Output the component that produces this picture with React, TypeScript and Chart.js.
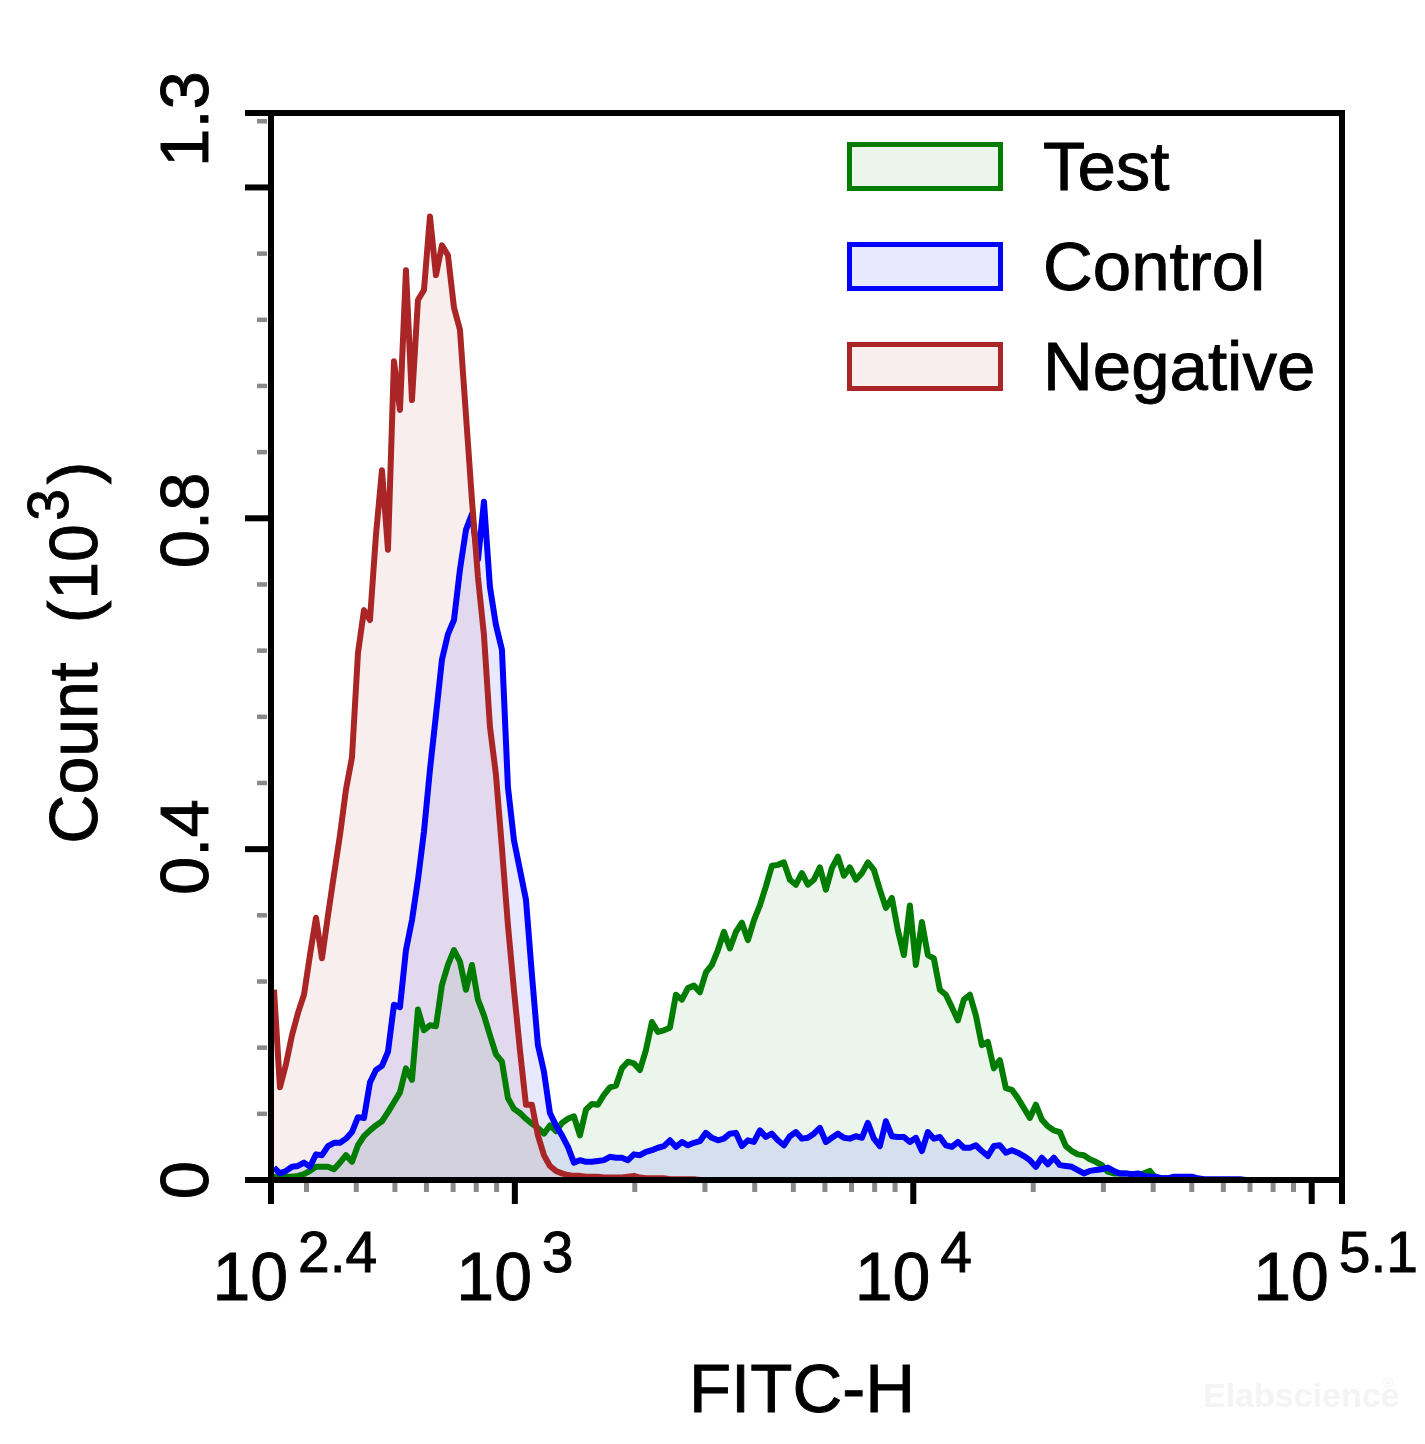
import React, { useEffect, useRef } from "react";
import { Chart, registerables } from "chart.js";

Chart.register(...registerables);

// ---- axis ranges (log10 of FITC-H) ----
const LOG_MIN = 2.388;
const LOG_MAX = 5.076;
// histogram channel centres (log10 FITC-H): first channel and channel width
const BIN_LOG_START = 2.3955;
const BIN_LOG_STEP = 0.015056;

// ---- counts per channel ----
const TEST = [
  4, 4, 4, 4, 5, 7, 11, 16, 16, 16,
  13, 21, 30, 22, 42, 53, 60, 66, 71, 82,
  94, 106, 135, 121, 206, 181, 187, 186, 236, 260,
  278, 264, 230, 260, 218, 199, 175, 152, 143, 99,
  86, 81, 74, 68, 63, 56, 66, 59, 69, 74,
  77, 54, 85, 92, 91, 103, 112, 114, 135, 143,
  141, 133, 157, 191, 179, 181, 184, 224, 218, 232,
  235, 227, 251, 260, 278, 300, 280, 300, 311, 290,
  314, 332, 355, 380, 381, 384, 363, 357, 371, 357,
  363, 378, 351, 377, 391, 368, 378, 363, 371, 384,
  375, 351, 329, 341, 302, 272, 332, 260, 312, 272,
  268, 230, 224, 209, 193, 218, 224, 199, 163, 167,
  135, 145, 111, 109, 99, 87, 75, 91, 73, 65,
  60, 58, 41, 35, 31, 30, 25, 22, 18, 10,
  8, 8, 8, 7, 6, 8, 11, 2, 2, 2,
  1, 1, 1, 1, 0, 0, 0, 0, 0, 0,
  0, 0, 0, 0, 0, 0, 0, 0, 0, 0,
  0, 0, 0, 0, 0, 0, 0, 0,
];

const CONTROL = [
  15, 8, 11, 16, 17, 21, 16, 31, 30, 41,
  45, 45, 50, 58, 76, 75, 118, 133, 138, 155,
  212, 209, 278, 314, 363, 421, 496, 562, 629, 660,
  677, 738, 786, 805, 750, 820, 717, 671, 641, 475,
  411, 375, 339, 248, 163, 131, 81, 66, 54, 40,
  21, 24, 22, 22, 23, 24, 28, 27, 27, 24,
  31, 30, 34, 36, 39, 41, 48, 40, 46, 42,
  45, 47, 57, 51, 48, 50, 56, 57, 41, 48,
  46, 60, 52, 56, 48, 42, 53, 58, 50, 51,
  56, 63, 46, 51, 56, 51, 50, 53, 51, 69,
  50, 41, 71, 53, 52, 52, 46, 51, 35, 58,
  50, 52, 42, 40, 46, 39, 39, 42, 35, 29,
  41, 42, 33, 36, 33, 29, 24, 16, 27, 19,
  27, 18, 17, 16, 12, 8, 11, 12, 13, 15,
  11, 8, 8, 7, 8, 5, 4, 4, 2, 2,
  4, 4, 4, 4, 2, 1, 1, 1, 1, 1,
  1, 1, 0, 0, 0, 0, 0, 0, 0, 0,
  0, 0, 0, 0, 0, 0, 0, 0,
];

const NEGATIVE = [
  230, 112, 140, 175, 202, 224, 272, 317, 268, 320,
  369, 417, 472, 511, 637, 689, 677, 780, 858, 762,
  990, 931, 1100, 943, 1064, 1076, 1165, 1094, 1130, 1118,
  1055, 1028, 925, 822, 729, 659, 548, 490, 401, 308,
  230, 157, 91, 91, 54, 30, 17, 11, 8, 6,
  5, 5, 4, 4, 4, 3, 3, 3, 3, 4,
  5, 3, 2, 2, 2, 2, 1, 1, 1, 1,
  1, 0, 0, 0, 0, 0, 0, 0, 0, 0,
  0, 0, 0, 0, 0, 0, 0, 0, 0, 0,
  0, 0, 0, 0, 0, 0, 0, 0, 0, 0,
  0, 0, 0, 0, 0, 0, 0, 0, 0, 0,
  0, 0, 0, 0, 0, 0, 0, 0, 0, 0,
  0, 0, 0, 0, 0, 0, 0, 0, 0, 0,
  0, 0, 0, 0, 0, 0, 0, 0, 0, 0,
  0, 0, 0, 0, 0, 0, 0, 0, 0, 0,
  0, 0, 0, 0, 0, 0, 0, 0, 0, 0,
  0, 0, 0, 0, 0, 0, 0, 0, 0, 0,
  0, 0, 0, 0, 0, 0, 0, 0,
];

const SERIES_LABELS = ["Test", "Control", "Negative"];
const SERIES_LINE = ["rgb(0,125,0)", "rgb(0,0,255)", "rgb(170,38,38)"];
const SERIES_FILL = ["rgba(0,128,0,0.08)", "rgba(0,0,255,0.09)", "rgba(170,38,38,0.08)"];

// ---- y axis (counts) ----
const Y_MAX = 1290;
const Y_MAJOR = [0, 400, 800, 1200, 1290];
const Y_MINOR = [80, 160, 240, 320, 480, 560, 640, 720, 880, 960, 1040, 1120, 1280];
const Y_LABELS = [
  { v: 0, t: "0", dy: 0 },
  { v: 400, t: "0.4", dy: -2 },
  { v: 800, t: "0.8", dy: 2 },
  { v: 1290, t: "1.3", dy: 6 },
];

// ---- x axis ----
const X_MAJOR = [1000, 10000, 100000];
const X_MINOR = [
  300, 400, 500, 600, 700, 800, 900,
  2000, 3000, 4000, 5000, 6000, 7000, 8000, 9000,
  20000, 30000, 40000, 50000, 60000, 70000, 80000, 90000,
];
const X_LABELS = [
  { v: Math.pow(10, LOG_MIN), exp: "2.4" },
  { v: 1000, exp: "3" },
  { v: 10000, exp: "4" },
  { v: 100000, exp: "5.1" },
];

const FONT = '"Liberation Sans", Arial, Helvetica, sans-serif';
const TEXT_STROKE = 0.9;

const fillBold = (ctx: CanvasRenderingContext2D, text: string, x: number, y: number) => {
  ctx.fillText(text, x, y);
  ctx.lineWidth = TEXT_STROKE;
  ctx.strokeStyle = ctx.fillStyle as string;
  ctx.strokeText(text, x, y);
};

const drawRot = (ctx: CanvasRenderingContext2D, text: string, bx: number, cy: number, font: string) => {
  ctx.save();
  ctx.translate(bx, cy);
  ctx.rotate(-Math.PI / 2);
  ctx.font = font;
  ctx.textAlign = "center";
  ctx.textBaseline = "alphabetic";
  fillBold(ctx, text, 0, 0);
  ctx.restore();
};

const axesPlugin = {
  id: "fcsAxes",
  afterDraw(chart: any) {
    const { ctx, chartArea: a, scales } = chart;
    const xs = scales.x;
    const ys = scales.y;
    ctx.save();
    ctx.lineCap = "butt";

    // minor ticks (gray)
    ctx.strokeStyle = "#8a8a8a";
    ctx.lineWidth = 4.5;
    Y_MINOR.forEach((v) => {
      const y = ys.getPixelForValue(v);
      ctx.beginPath();
      ctx.moveTo(257, y);
      ctx.lineTo(267, y);
      ctx.stroke();
    });
    ctx.lineWidth = 5;
    X_MINOR.forEach((v) => {
      const x = xs.getPixelForValue(v);
      ctx.beginPath();
      ctx.moveTo(x, a.bottom + 3);
      ctx.lineTo(x, a.bottom + 12);
      ctx.stroke();
    });

    // frame
    ctx.strokeStyle = "#000";
    ctx.lineWidth = 6;
    ctx.strokeRect(a.left, a.top, a.right - a.left, a.bottom - a.top);

    // major ticks
    Y_MAJOR.forEach((v) => {
      const y = ys.getPixelForValue(v);
      ctx.beginPath();
      ctx.moveTo(245, y);
      ctx.lineTo(a.left, y);
      ctx.stroke();
    });
    [Math.pow(10, LOG_MIN), ...X_MAJOR, Math.pow(10, LOG_MAX)].forEach((v) => {
      const x = xs.getPixelForValue(v);
      ctx.beginPath();
      ctx.moveTo(x, a.bottom);
      ctx.lineTo(x, a.bottom + 24);
      ctx.stroke();
    });

    ctx.fillStyle = "#000";
    // y tick labels
    Y_LABELS.forEach((l) => {
      drawRot(ctx, l.t, 208, ys.getPixelForValue(l.v) + l.dy, `69px ${FONT}`);
    });

    // x tick labels: 10 with superscript exponent
    ctx.textAlign = "left";
    ctx.textBaseline = "alphabetic";
    X_LABELS.forEach((l) => {
      const x = xs.getPixelForValue(l.v);
      ctx.font = `68px ${FONT}`;
      fillBold(ctx, "10", x - 58.5, 1300);
      ctx.font = `57px ${FONT}`;
      fillBold(ctx, l.exp, x + 27, 1272);
    });

    // x title
    ctx.textAlign = "center";
    ctx.font = `69px ${FONT}`;
    fillBold(ctx, "FITC-H", 802, 1412);

    // y title
    drawRot(ctx, "Count", 97, 753, `68px ${FONT}`);
    drawRot(ctx, "(", 97, 612, `68px ${FONT}`);
    drawRot(ctx, "10", 97, 562, `68px ${FONT}`);
    drawRot(ctx, "3", 68, 505, `57px ${FONT}`);
    drawRot(ctx, ")", 97, 473, `68px ${FONT}`);

    // legend
    const ds = chart.data.datasets;
    ds.forEach((d: any, i: number) => {
      const top = 144.5 + i * 100;
      ctx.fillStyle = "#fff";
      ctx.fillRect(849.5, top, 151, 44);
      ctx.fillStyle = d.backgroundColor;
      ctx.fillRect(849.5, top, 151, 44);
      ctx.strokeStyle = d.borderColor;
      ctx.lineWidth = 5;
      ctx.strokeRect(849.5, top, 151, 44);
      ctx.fillStyle = "#000";
      ctx.textAlign = "left";
      ctx.font = `69px ${FONT}`;
      fillBold(ctx, d.label, 1043, 190 + i * 100);
    });

    // faint watermark
    ctx.fillStyle = "#f4f4f4";
    ctx.font = `bold 34px ${FONT}`;
    ctx.textAlign = "left";
    ctx.fillText("Elabscience", 1203, 1407);
    ctx.font = `14px ${FONT}`;
    ctx.fillText("®", 1383, 1388);

    ctx.restore();
  },
};

export default function App() {
  const ref = useRef<HTMLCanvasElement | null>(null);

  useEffect(() => {
    if (!ref.current) return;
    const binX = TEST.map((_, i) => Math.pow(10, BIN_LOG_START + i * BIN_LOG_STEP));
    const seriesData = [TEST, CONTROL, NEGATIVE];
    const datasets = seriesData.map((vals, k) => ({
      label: SERIES_LABELS[k],
      data: vals.map((y, i) => ({ x: binX[i], y })),
      borderColor: SERIES_LINE[k],
      backgroundColor: SERIES_FILL[k],
      borderWidth: 6,
      pointRadius: 0,
      tension: 0,
      fill: "origin",
      borderJoinStyle: "round" as const,
      order: 2 - k,
    }));

    const chart = new Chart(ref.current, {
      type: "line",
      data: { datasets },
      options: {
        animation: false,
        responsive: false,
        devicePixelRatio: 1,
        layout: { padding: { left: 271, top: 113, right: 83, bottom: 264 } },
        plugins: {
          legend: { display: false },
          tooltip: { enabled: false },
          filler: { drawTime: "beforeDatasetsDraw" },
        },
        scales: {
          x: {
            type: "logarithmic",
            min: Math.pow(10, LOG_MIN),
            max: Math.pow(10, LOG_MAX),
            bounds: "data",
            display: false,
          },
          y: {
            type: "linear",
            min: 0,
            max: Y_MAX,
            display: false,
          },
        },
      },
      plugins: [axesPlugin],
    } as any);

    return () => chart.destroy();
  }, []);

  return (
    <div style={{ position: "absolute", left: 0, top: 0, width: 1425, height: 1444, background: "#fff" }}>
      <canvas ref={ref} width={1425} height={1444} style={{ display: "block" }} />
    </div>
  );
}
